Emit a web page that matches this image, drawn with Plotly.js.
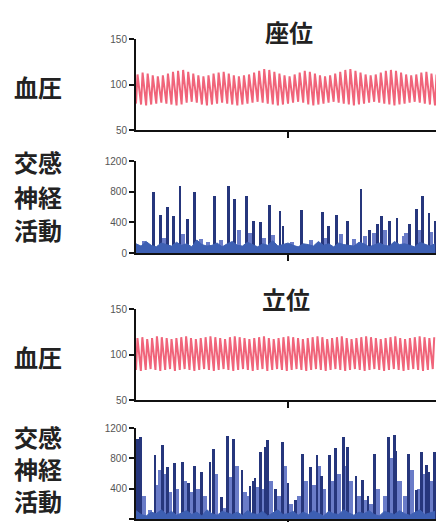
<!DOCTYPE html>
<html>
<head>
<meta charset="utf-8">
<script src="https://cdn.plot.ly/plotly-3.0.1.min.js"></script>
<style>html,body{margin:0;padding:0;background:#fff;}#chart{width:436px;height:522px;}</style>
</head>
<body>
<div id="chart"></div>
<script>
// ---------- data ----------
const panelTitles = ["座位", "立位"];
const bpLabel = "血圧";
const msnaLabelLines = ["交感", "神経", "活動"];
const bpTicks = [50, 100, 150];
const msnaTicks = [0, 400, 800, 1200];
const timeTicks = [30];

// blood pressure (per beat)
const sitBeatInterval = 1.0;
const sitSys = [111,113,112,110,109,110,112,114,115,116,
                114,112,110,109,110,112,113,114,112,110,
                109,110,111,113,115,117,116,114,112,110,
                109,111,113,115,114,112,110,109,110,112,
                114,116,117,115,113,111,110,111,113,115,
                116,115,113,111,110,111,113,114,112,111];
const sitDia = [79,78,77,78,79,80,79,78,77,78,
                80,81,80,78,77,78,79,80,79,78,
                77,78,79,80,81,80,79,78,77,78,
                79,80,81,80,78,77,78,79,80,81,
                80,79,78,77,78,79,80,81,80,79,
                78,77,78,79,80,81,80,79,78,77];
const standBeatInterval = 0.96;
const standSys = [118,119,117,118,120,119,118,117,118,119,
                  120,118,117,118,119,120,119,118,117,119,
                  120,119,118,117,118,119,120,118,117,118,
                  119,120,119,118,117,118,119,120,119,117,
                  118,119,120,118,117,118,119,120,119,118,
                  117,118,119,120,118,117,118,119,120,119,
                  118,119];
const standDia = [83,82,83,84,83,82,83,84,82,83,
                  84,83,82,83,84,83,82,83,84,83,
                  82,83,84,83,82,83,84,82,83,84,
                  83,82,83,84,83,82,83,84,83,82,
                  83,84,83,82,83,84,83,82,83,84,
                  83,82,83,84,83,82,83,84,83,82,
                  83,84];

// sympathetic nerve activity
const baseTimes = [0,1,2,3,4,5,6,7,8,9,10,11,12,13,14,15,16,17,18,19,20,21,22,23,24,25,26,27,28,29,
                   30,31,32,33,34,35,36,37,38,39,40,41,42,43,44,45,46,47,48,49,50,51,52,53,54,55,56,57,58,59];
const sitBase = [120,90,150,100,80,130,110,90,140,100,
                 120,80,170,110,90,100,130,80,120,150,
                 100,90,140,110,80,120,100,160,90,110,
                 130,100,80,120,110,90,150,100,120,80,
                 130,110,100,90,140,120,80,110,130,100,
                 90,150,110,120,100,80,140,110,90,120];
const standBase = [110,60,40,90,70,120,60,100,50,80,
                   110,60,90,40,120,70,50,100,80,60,
                   90,50,110,70,60,100,40,80,120,60,
                   70,100,50,90,60,110,80,40,100,70,
                   60,120,80,50,90,70,110,60,40,100,
                   80,60,110,70,50,90,120,60,80,100];

const sitSpikeT = [3.4,4.9,6.2,7.4,8.7,10.1,11.5,15.5,18.2,19.5,21.8,23.2,24.5,26.3,28.4,29.0,
                   32.6,36.8,38.0,39.5,41.8,44.4,46.0,47.6,48.4,50.1,51.5,54.0,55.4,56.6,57.8,59.0];
const sitSpikeH = [790,500,600,480,870,440,800,740,880,700,750,420,400,620,550,350,
                   560,530,350,500,420,840,300,380,480,420,460,380,570,740,520,420];
const sitMinorT = [1.5,5.5,9.3,12.8,14.2,16.8,20.3,22.5,25.2,27.0,30.8,34.5,37.2,40.5,43.0,45.2,47.0,49.2,52.8,53.3,56.0,58.3];
const sitMinorH = [160,200,250,180,150,170,300,260,200,230,150,170,200,250,180,220,260,300,220,260,300,280];

const standSpikeT = [0.3,0.9,3.75,5.2,6.2,7.6,9.1,10.3,11.5,13.0,14.6,15.3,16.9,18.1,19.3,20.9,22.5,23.1,23.5,24.5,
                     25.5,26.0,27.6,28.9,30.0,31.4,32.9,34.4,35.7,36.6,38.2,39.3,40.9,41.8,43.4,44.7,45.8,47.1,49.9,51.0,
                     51.3,53.8,55.3,56.3,57.3,57.8,58.9];
const standSpikeH = [1050,1080,840,970,690,740,750,480,700,620,750,920,290,1100,1060,650,440,500,540,880,
                     950,1040,400,1020,480,250,860,680,840,570,840,940,1080,950,570,520,300,860,1080,1110,
                     900,860,380,880,710,620,880];
const standMinorT = [1.5,2.8,4.3,4.75,5.7,6.7,8.0,9.7,11.0,12.3,13.5,15.8,17.4,18.6,19.9,21.4,22.1,24.0,25.0,26.5,28.2,29.4,
                     30.6,32.2,33.4,35.0,36.0,37.0,38.6,40.0,41.3,42.3,44.0,45.2,46.5,47.6,49.2,50.5,52.0,53.2,54.4,55.9,56.8,58.4];
const standMinorH = [300,120,450,640,600,350,400,500,350,400,300,600,150,550,700,350,300,420,400,500,300,700,
                     200,300,500,450,700,400,500,600,700,500,300,250,200,400,300,800,500,300,650,400,600,500];

// ---------- build ----------
function bpLine(sys, dia, interval) {
  const x = [], y = [];
  for (let i = 0; i < sys.length; i++) {
    x.push(i * interval); y.push(dia[i]);
    x.push(i * interval + 0.3 * interval); y.push(sys[i]);
  }
  return {x, y};
}
const bpColor = '#f0647a';
const spikeColor = '#26367c';
const minorColor = '#6a7cc8';
const baseColor = '#3d5fb3';

const sitBP = bpLine(sitSys, sitDia, sitBeatInterval);
const standBP = bpLine(standSys, standDia, standBeatInterval);

const traces = [
  {type:'scatter', mode:'lines', x:sitBP.x, y:sitBP.y, xaxis:'x', yaxis:'y', line:{color:bpColor, width:2}, hoverinfo:'skip'},
  {type:'scatter', mode:'lines', x:baseTimes, y:sitBase, xaxis:'x2', yaxis:'y2', fill:'tozeroy', fillcolor:baseColor, line:{color:baseColor, width:1}, hoverinfo:'skip'},
  {type:'bar', x:sitMinorT, y:sitMinorH, xaxis:'x2', yaxis:'y2', width:0.8, marker:{color:minorColor}, hoverinfo:'skip'},
  {type:'bar', x:sitSpikeT, y:sitSpikeH, xaxis:'x2', yaxis:'y2', width:0.55, marker:{color:spikeColor}, hoverinfo:'skip'},
  {type:'scatter', mode:'lines', x:standBP.x, y:standBP.y, xaxis:'x3', yaxis:'y3', line:{color:bpColor, width:2}, hoverinfo:'skip'},
  {type:'scatter', mode:'lines', x:baseTimes, y:standBase, xaxis:'x4', yaxis:'y4', fill:'tozeroy', fillcolor:baseColor, line:{color:baseColor, width:1}, hoverinfo:'skip'},
  {type:'bar', x:standMinorT, y:standMinorH, xaxis:'x4', yaxis:'y4', width:0.9, marker:{color:minorColor}, hoverinfo:'skip'},
  {type:'bar', x:standSpikeT, y:standSpikeH, xaxis:'x4', yaxis:'y4', width:0.55, marker:{color:spikeColor}, hoverinfo:'skip'}
];

const H = 522;
function dom(topPx, botPx) { return [1 - botPx / H, 1 - topPx / H]; }
const tickFont = {family:'Liberation Sans, Arial, sans-serif', size:10, color:'#555'};
function yAx(domain, range, ticks) {
  return {domain, range, tickvals:ticks, ticktext:ticks.map(String), ticks:'outside', ticklen:5, tickwidth:2,
          tickcolor:'#111', showline:true, linewidth:2, linecolor:'#111', showgrid:false, zeroline:false,
          tickfont:tickFont, fixedrange:true};
}
function xAx(anchor) {
  return {anchor, domain:[0,1], range:[0,59.2], tickvals:timeTicks, ticks:'outside', ticklen:6, tickwidth:2,
          tickcolor:'#111', showticklabels:false, showline:true, linewidth:2, linecolor:'#111',
          showgrid:false, zeroline:false, fixedrange:true};
}
const labFont = {family:'Noto Sans CJK JP, sans-serif', size:24, color:'#222', weight:'bold'};
const titleFont = {family:'Noto Sans CJK JP, sans-serif', size:24, color:'#222', weight:'bold'};
function ann(text, xpx, ypx, font) {
  return {text, xref:'paper', yref:'paper', x:(xpx - 136) / 300, y:1 - ypx / H,
          xanchor:'center', yanchor:'middle', showarrow:false, font};
}
const annotations = [
  ann(panelTitles[0], 289, 32, titleFont),
  ann(panelTitles[1], 286, 298, titleFont),
  ann(bpLabel, 38, 87, labFont),
  ann(bpLabel, 38, 356, labFont),
  ann(msnaLabelLines[0], 38, 162, labFont),
  ann(msnaLabelLines[1], 38, 196, labFont),
  ann(msnaLabelLines[2], 38, 230, labFont),
  ann(msnaLabelLines[0], 38, 436, labFont),
  ann(msnaLabelLines[1], 38, 468, labFont),
  ann(msnaLabelLines[2], 38, 500, labFont)
];

const layout = {
  width:436, height:522, margin:{l:136, r:0, t:0, b:0, pad:0},
  paper_bgcolor:'#fff', plot_bgcolor:'#fff', showlegend:false, barmode:'overlay', bargap:0,
  xaxis:xAx('y'), xaxis2:xAx('y2'), xaxis3:xAx('y3'), xaxis4:xAx('y4'),
  yaxis:yAx(dom(39,130), [50,150], bpTicks),
  yaxis2:yAx(dom(161,253), [0,1200], msnaTicks),
  yaxis3:yAx(dom(309,400), [50,150], bpTicks),
  yaxis4:yAx(dom(428,519), [0,1200], msnaTicks),
  annotations
};
Plotly.newPlot('chart', traces, layout, {displayModeBar:false, staticPlot:true});
</script>
</body>
</html>
